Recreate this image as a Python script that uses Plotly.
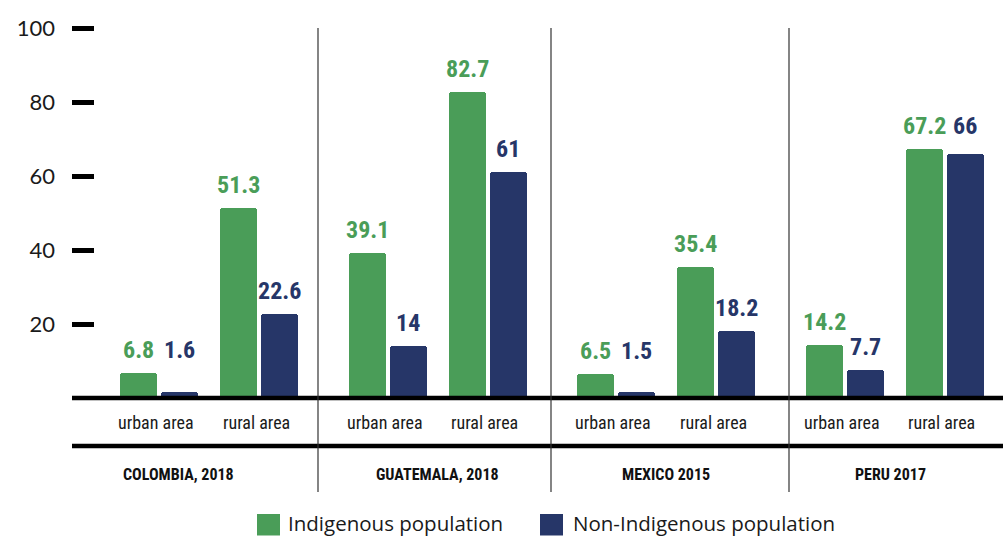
import plotly.graph_objects as go

# Share of population (%) by country, area and ethnicity
countries = ["COLOMBIA, 2018", "GUATEMALA, 2018", "MEXICO 2015", "PERU 2017"]
areas = ["urban area", "rural area"]
indigenous = [6.8, 51.3, 39.1, 82.7, 6.5, 35.4, 14.2, 67.2]
non_indigenous = [1.6, 22.6, 14, 61, 1.5, 18.2, 7.7, 66]
y_ticks = [20, 40, 60, 80, 100]
series_names = ["Indigenous population", "Non-Indigenous population"]

GREEN = "#4a9d58"
NAVY = "#263668"
COND = "Roboto Condensed, Open Sans Condensed, Liberation Sans Narrow, sans-serif"

# horizontal layout (x-axis units): spacing between areas / countries, bar geometry
AREA_STEP = 1.0
COUNTRY_STEP = 2.285
BAR_W = 0.37
BAR_OFF = 0.205
Y_TOP = 100.54          # a little headroom so the 100 tick is drawn
PLOT_H = 372            # plot height in px


def py(px_from_top):
    """paper y for a pixel row measured from the top of the figure"""
    return (398 - px_from_top) / PLOT_H


centers, area_labels = [], []
for i, _ in enumerate(countries):
    for j, a in enumerate(areas):
        centers.append(i * COUNTRY_STEP + j * AREA_STEP)
        area_labels.append(a)

x_ind = [c - BAR_OFF for c in centers]
x_non = [c + BAR_OFF for c in centers]

fig = go.Figure()
fig.add_trace(go.Bar(x=x_ind, y=indigenous, width=BAR_W, name=series_names[0],
                     marker=dict(color=GREEN, line=dict(width=0), cornerradius=3),
                     showlegend=False, hoverinfo="y"))
fig.add_trace(go.Bar(x=x_non, y=non_indigenous, width=BAR_W, name=series_names[1],
                     marker=dict(color=NAVY, line=dict(width=0), cornerradius=3),
                     showlegend=False, hoverinfo="y"))

annotations = []
# value labels above the bars; tiny/near-equal navy values line up with the green label
for k in range(len(centers)):
    g, n = indigenous[k], non_indigenous[k]
    annotations.append(dict(x=x_ind[k], y=g, text=f"{g:g}", showarrow=False,
                            yanchor="bottom", yshift=8, borderpad=0,
                            font=dict(family=COND, size=24, color=GREEN, weight="bold")))
    base_n = max(g, n) if (n < 5 or abs(g - n) < 2) else n
    annotations.append(dict(x=x_non[k], y=base_n, text=f"{n:g}", showarrow=False,
                            yanchor="bottom", yshift=8, borderpad=0,
                            font=dict(family=COND, size=24, color=NAVY, weight="bold")))

# area labels under the baseline
for c, a in zip(centers, area_labels):
    annotations.append(dict(x=c - 0.03, y=py(422), yref="paper", text=a, showarrow=False,
                            yanchor="middle", font=dict(family=COND, size=18, color="#1a1a1a")))

# country labels
country_shift = [-31, 0, 0, -4]
for i, cname in enumerate(countries):
    cx = i * COUNTRY_STEP + AREA_STEP / 2
    annotations.append(dict(x=cx, y=py(474), yref="paper", text=cname, showarrow=False,
                            xshift=country_shift[i], yanchor="middle",
                            font=dict(family=COND, size=16, color="#111111", weight="bold")))

shapes = []
# baseline and lower rule
shapes.append(dict(type="line", xref="paper", yref="paper", x0=0, x1=1, y0=0, y1=0,
                   line=dict(color="#000000", width=4.5)))
shapes.append(dict(type="line", xref="paper", yref="paper", x0=0, x1=1, y0=py(446), y1=py(446),
                   line=dict(color="#000000", width=4.5)))
# country separators
for sx in [1.59, 3.92, 6.30]:
    shapes.append(dict(type="line", xref="x", yref="paper", x0=sx, x1=sx,
                       y0=100 / Y_TOP, y1=py(492),
                       line=dict(color="#333333", width=1.2)))

# legend drawn as swatches + text
legend_items = [(GREEN, series_names[0], 0.1987, 0.2309), (NAVY, series_names[1], 0.5027, 0.5370)]
for col, txt, sx, tx in legend_items:
    shapes.append(dict(type="rect", xref="paper", yref="paper", x0=sx, x1=sx + 0.0247,
                       y0=py(514), y1=py(535.5), fillcolor=col, line=dict(width=0)))
    annotations.append(dict(x=tx, y=py(523), xref="paper", yref="paper", text=txt,
                            showarrow=False, xanchor="left", yanchor="middle", borderpad=0,
                            font=dict(family="Open Sans, Noto Sans, sans-serif", size=20.5,
                                      color="#1a1a1a")))

fig.update_layout(
    width=1003, height=536, autosize=False,
    margin=dict(l=72, r=0, t=26, b=138),
    plot_bgcolor="white", paper_bgcolor="white",
    showlegend=False,
    bargap=0,
    xaxis=dict(range=[-0.87, 8.44], showticklabels=False, ticks="", showgrid=False,
               zeroline=False, showline=False, fixedrange=True),
    yaxis=dict(range=[0, Y_TOP], tickvals=y_ticks, ticks="inside", ticklen=22, tickwidth=4.5,
               tickcolor="#000000", showgrid=False, zeroline=False, showline=False,
               ticklabelstandoff=16,
               tickfont=dict(family="Lato, Open Sans, sans-serif", size=22, color="#1a1a1a"),
               fixedrange=True),
    shapes=shapes,
    annotations=annotations,
)

fig.write_html("out.html")
